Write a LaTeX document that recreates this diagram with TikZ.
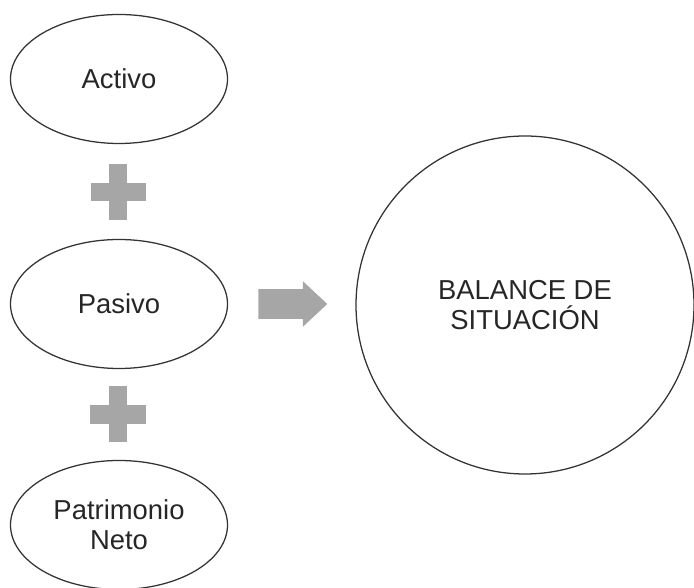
\documentclass[tikz,border=0pt]{standalone}
\usepackage{fontspec}
\setmainfont{Liberation Sans}
\usetikzlibrary{positioning}
\usetikzlibrary{shapes.geometric,shapes.arrows}

\tikzset{
	cuenta/.style={ellipse, draw=black!80, line width=0.9pt, minimum width=5.425cm, minimum height=3.225cm, inner sep=0pt, align=center, text=black!85, font=\fontsize{19.5}{21.5}\selectfont},
	barra/.style={fill=gray!70, inner sep=0pt},
}

\begin{document}
\begin{tikzpicture}
	\useasboundingbox (0,0) rectangle (17.35,14.7);
	
	% ACTIVO
	\node[cuenta] (activo) at (2.975,12.725) {Activo};
	
	% FIRST PLUS
	\node[barra, minimum width=1.375cm, minimum height=0.45cm] (masA-h) at (2.95,9.9) {};
	\node[barra, minimum width=0.45cm, minimum height=1.4cm] (masA-v) at (2.95,9.9) {};
	
	% PASIVO
	\node[cuenta] (pasivo) at (2.975,7.1) {Pasivo};
	
	% SECOND PLUS
	\node[barra, minimum width=1.4cm, minimum height=0.47cm] (masB-h) at (2.95,4.34) {};
	\node[barra, minimum width=0.45cm, minimum height=1.4cm] (masB-v) at (2.95,4.34) {};
	
	% PATRIMONIO NETO
	\node[cuenta] (patrimonio) at (2.975,1.575) {Patrimonio\\Neto};
	
	% ARROW
	\node[barra, single arrow, anchor=tail, minimum height=1.725cm, single arrow head extend=0.2cm, single arrow tip angle=86] (flecha) at (6.45,7.1) {\rule{0pt}{0.725cm}};
	
	% BALANCE
	\node[cuenta, circle, minimum size=8.45cm] (balance) at (13.125,7.075) {BALANCE DE\\SITUACIÓN};
\end{tikzpicture}
\end{document}
